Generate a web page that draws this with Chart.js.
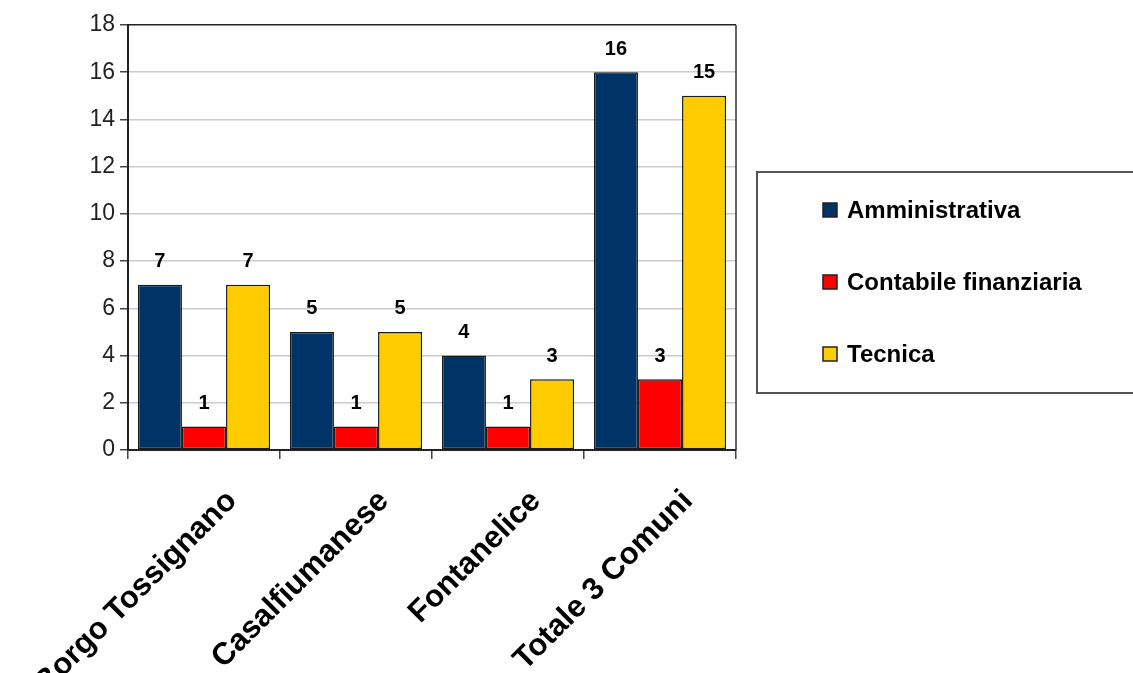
<!DOCTYPE html>
<html>
<head>
<meta charset="utf-8">
<script src="https://cdn.jsdelivr.net/npm/chart.js@4.4.1/dist/chart.umd.min.js"></script>
<style>
  html, body { margin: 0; padding: 0; background: #fff; }
  #wrap { width: 1133px; height: 673px; position: relative; }
</style>
</head>
<body>
<div id="wrap"><canvas id="grafico"></canvas></div>
<script>
//Dati
const comuni = ['Borgo Tossignano', 'Casalfiumanese', 'Fontanelice', 'Totale 3 Comuni'];
const amministrativa = [7, 5, 4, 16];
const contabile = [1, 1, 1, 3];
const tecnica = [7, 5, 3, 15];
const nomiSerie = ['Amministrativa', 'Contabile finanziaria', 'Tecnica'];
const coloriSerie = ['#003366', '#ff0000', '#ffcc00'];

const FONT = '"Liberation Sans", Arial, sans-serif';

//Etichette sopra le barre
const pluginValori = {
    id: 'valori',
    afterDatasetsDraw(chart) {
        const { ctx } = chart;
        ctx.save();
        ctx.font = 'bold 20px ' + FONT;
        ctx.fillStyle = '#000';
        ctx.textAlign = 'center';
        ctx.textBaseline = 'bottom';
        chart.data.datasets.forEach((ds, i) => {
            const meta = chart.getDatasetMeta(i);
            meta.data.forEach((bar, j) => {
                ctx.fillText(ds.data[j], bar.x, bar.y - 13);
            });
        });
        ctx.restore();
    }
};

//Bordo destro dell'area del grafico
const pluginCornice = {
    id: 'cornice',
    afterDraw(chart) {
        const { ctx, chartArea } = chart;
        ctx.save();
        ctx.strokeStyle = '#333';
        ctx.lineWidth = 1.5;
        ctx.beginPath();
        ctx.moveTo(chartArea.right, chartArea.top);
        ctx.lineTo(chartArea.right, chartArea.bottom);
        ctx.stroke();
        ctx.restore();
    }
};

//Legenda con riquadro
const pluginLegenda = {
    id: 'legendaBox',
    afterDraw(chart) {
        const { ctx } = chart;
        ctx.save();
        ctx.strokeStyle = '#555';
        ctx.lineWidth = 2;
        ctx.strokeRect(757, 172, 420, 221);
        ctx.font = 'bold 24px ' + FONT;
        ctx.textBaseline = 'middle';
        ctx.textAlign = 'left';
        chart.data.datasets.forEach((ds, i) => {
            const y = 210 + i * 72;
            ctx.fillStyle = ds.backgroundColor;
            ctx.fillRect(823, y - 7, 14, 14);
            ctx.strokeStyle = '#222';
            ctx.lineWidth = 1.5;
            ctx.strokeRect(823, y - 7, 14, 14);
            ctx.fillStyle = '#000';
            ctx.fillText(ds.label, 847, y + 1);
        });
        ctx.restore();
    }
};

const datiGrafico = {
    labels: comuni,
    datasets: [amministrativa, contabile, tecnica].map((valori, i) => ({
        label: nomiSerie[i],
        data: valori,
        backgroundColor: coloriSerie[i],
        borderColor: '#1a1a1a',
        borderWidth: 1.5,
        borderSkipped: false,
        categoryPercentage: 0.87,
        barPercentage: 1.0
    }))
};

const config = {
    type: 'bar',
    data: datiGrafico,
    options: {
        responsive: true,
        maintainAspectRatio: false,
        animation: false,
        layout: {
            padding: { left: 68, right: 397, top: 25, bottom: 0 }
        },
        plugins: {
            legend: { display: false },
            tooltip: { enabled: false }
        },
        scales: {
            x: {
                grid: {
                    offset: true,
                    drawOnChartArea: false,
                    drawTicks: true,
                    tickLength: 9,
                    tickColor: '#444',
                    lineWidth: 1.5
                },
                border: { color: '#222', width: 2 },
                ticks: {
                    color: '#000',
                    font: { family: FONT, size: 31, weight: 'bold' },
                    minRotation: 45,
                    maxRotation: 45,
                    labelOffset: 28,
                    padding: 24
                },
                afterFit(scale) {
                    scale.height = 223;
                    scale.paddingLeft = 0;
                    scale.paddingRight = 0;
                }
            },
            y: {
                min: 0,
                max: 18,
                ticks: {
                    stepSize: 2,
                    color: '#222',
                    font: { family: FONT, size: 23 },
                    padding: 5
                },
                grid: {
                    color: ctx => ctx.tick && ctx.tick.value === 18 ? '#222' : '#cccccc',
                    lineWidth: 1.5,
                    tickColor: '#444',
                    tickLength: 8
                },
                border: { color: '#222', width: 2 },
                afterFit(scale) { scale.width = 60; }
            }
        }
    },
    plugins: [pluginValori, pluginCornice, pluginLegenda]
};

new Chart(document.querySelector('#grafico'), config);//Crea il grafico
</script>
</body>
</html>
